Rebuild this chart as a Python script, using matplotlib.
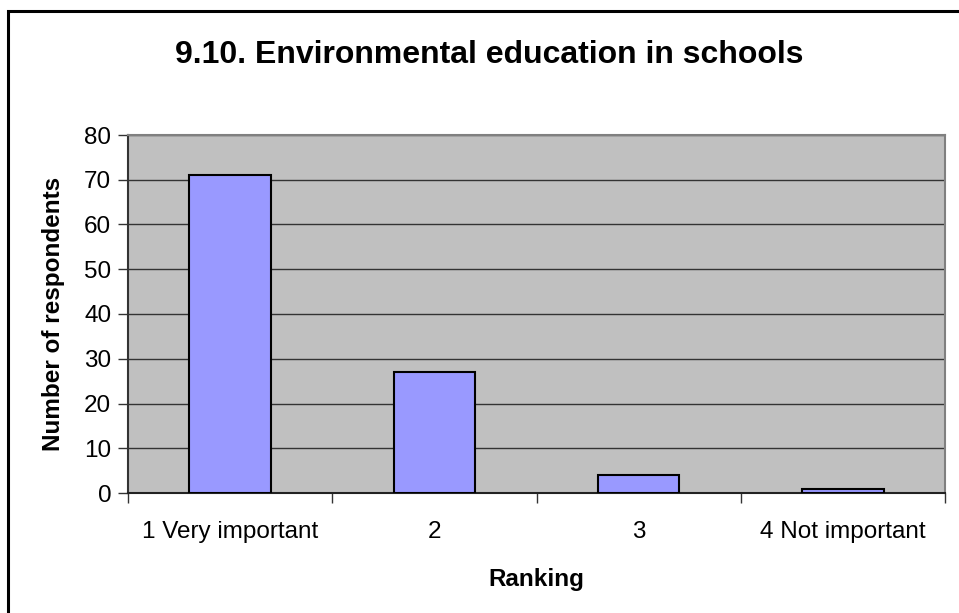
import numpy as np
import matplotlib.pyplot as plt
from matplotlib.patches import Rectangle

plt.rcParams['font.family'] = ['Liberation Sans', 'DejaVu Sans']

# Data
categories = ['1 Very important', '2', '3', '4 Not important']
respondents = [71, 27, 4, 1]
yticks = [0, 10, 20, 30, 40, 50, 60, 70, 80]

W, H = 959, 613
fig = plt.figure(figsize=(W / 100, H / 100), dpi=100)

# outer chart frame (runs off right and bottom edges)
fig.patches.append(Rectangle((8 / W, -0.1), 1.2, 1.1 - 11 / H, transform=fig.transFigure,
                             fill=False, edgecolor='black', linewidth=2.2, zorder=0))

ax = fig.add_axes([128 / W, 1 - 493 / H, (945 - 128) / W, (493 - 135) / H])
ax.set_facecolor('#C0C0C0')

x = np.arange(len(categories))
ax.bar(x, respondents, width=0.4, color='#9999FF', edgecolor='black', linewidth=1.5, zorder=3)

ax.set_xlim(-0.5, len(categories) - 0.5)
ax.set_ylim(0, 80)
ax.set_yticks(yticks)
ax.yaxis.grid(True, color='#333333', linewidth=1, zorder=1)
ax.set_axisbelow(True)

ax.set_xticks(x)
ax.set_xticklabels(categories, fontsize=17.5)
ax.set_xticks(np.arange(len(categories) + 1) - 0.5, minor=True)
ax.tick_params(axis='x', which='major', length=0, pad=20)
ax.tick_params(axis='x', which='minor', length=7, width=1, color='#333333', direction='out')
ax.tick_params(axis='y', length=7, width=1, color='#333333', labelsize=17.5, pad=5)

for side in ['top', 'right']:
    ax.spines[side].set_color('#808080')
    ax.spines[side].set_linewidth(1.5)
ax.spines['left'].set_color('#333333')
ax.spines['left'].set_linewidth(1.5)
ax.spines['bottom'].set_color('#222222')
ax.spines['bottom'].set_linewidth(1.5)

ax.set_xlabel('Ranking', fontsize=17.5, fontweight='bold', labelpad=18)
ax.set_ylabel('Number of respondents', fontsize=17.5, fontweight='bold', labelpad=14)

fig.text(489 / W, 1 - 55 / H, '9.10. Environmental education in schools',
         fontsize=23, fontweight='bold', ha='center', va='center')

fig.savefig('out.png', dpi=100)
